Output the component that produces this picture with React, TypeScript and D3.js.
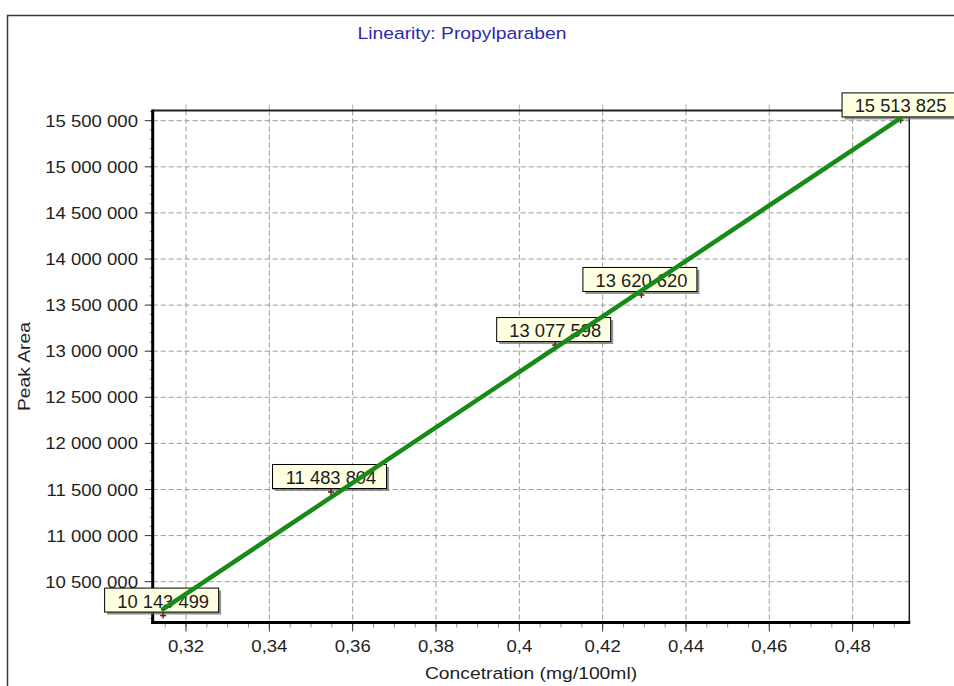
import React from 'react';
import * as d3 from 'd3';

// Calibration points: concentration (mg/100ml) and measured peak area
const concentrations = [0.3145, 0.3548, 0.4086, 0.4293, 0.4915];
const peakAreas = [10143499, 11483804, 13077598, 13620620, 15513825];

// Axis ticks and extents
const xTickValues = [0.32, 0.34, 0.36, 0.38, 0.4, 0.42, 0.44, 0.46, 0.48];
const yTickValues = [10500000, 11000000, 11500000, 12000000, 12500000, 13000000, 13500000, 14000000, 14500000, 15000000, 15500000];
const xDomain = [0.312, 0.4936];
const yDomain = [10057500, 15610600];
const xMinorStep = 0.005;
const yMinorStep = 100000;

const chartTitle = 'Linearity: Propylparaben';
const xAxisTitle = 'Concetration (mg/100ml)';
const yAxisTitle = 'Peak Area';

const W = 954;
const H = 686;
const plot = { left: 152.7, right: 909.3, top: 110.5, bottom: 622.5 };
const FONT = '"Liberation Sans", Arial, Helvetica, sans-serif';

const locale = d3.formatLocale({ decimal: ',', thousands: ' ', grouping: [3], currency: ['', ''] });
const fmtInt = locale.format(',d');
const fmtConc = (v: number) => String(+v.toFixed(3)).replace('.', ',');

type STextProps = {
  x: number;
  y: number;
  size: number;
  sx?: number;
  rotate?: number;
  anchor?: 'start' | 'middle' | 'end';
  fill?: string;
  children: React.ReactNode;
};

// Text with a slight horizontal stretch, like the original UI rendering
function SText({ x, y, size, sx = 1, rotate = 0, anchor = 'start', fill = '#1e1e1e', children }: STextProps) {
  return (
    <text
      transform={`translate(${x},${y}) rotate(${rotate}) scale(${sx},1)`}
      textAnchor={anchor}
      fontFamily={FONT}
      fontSize={size}
      fill={fill}
    >
      {children}
    </text>
  );
}

export default function App() {
  const x = d3.scaleLinear().domain(xDomain).range([plot.left, plot.right]);
  const y = d3.scaleLinear().domain(yDomain).range([plot.bottom, plot.top]);

  const points = concentrations.map((c, i) => ({ c, a: peakAreas[i] }));

  // Least-squares fit through the calibration points
  const mx = d3.mean(concentrations) as number;
  const my = d3.mean(peakAreas) as number;
  const sxy = d3.sum(points, (p) => (p.c - mx) * (p.a - my));
  const sxx = d3.sum(points, (p) => (p.c - mx) ** 2);
  const slope = sxy / sxx;
  const intercept = my - slope * mx;
  const [cMin, cMax] = d3.extent(concentrations) as [number, number];
  const fitLine = d3.line<number>()
    .x((c) => x(c))
    .y((c) => y(intercept + slope * c))([cMin, cMax]) as string;

  const xMinor = d3.range(Math.ceil(xDomain[0] / xMinorStep), Math.floor(xDomain[1] / xMinorStep) + 1)
    .map((k) => k * xMinorStep);
  const yMinor = d3.range(Math.ceil(yDomain[0] / yMinorStep), Math.floor(yDomain[1] / yMinorStep) + 1)
    .map((k) => k * yMinorStep);

  const gridColor = '#9a9a9a';
  const boxW = 114;
  const boxH = 24;

  return (
    <svg
      width={W}
      height={H}
      viewBox={`0 0 ${W} ${H}`}
      style={{ position: 'absolute', left: 0, top: 0, background: '#fff' }}
    >
      {/* outer panel frame */}
      <rect x={7.5} y={15.5} width={980} height={720} fill="#fff" stroke="#3a3a3a" strokeWidth={1.5} />

      <SText x={462} y={39} size={16.5} sx={1.17} anchor="middle" fill="#2b2ba8">{chartTitle}</SText>

      {/* grid */}
      <g stroke={gridColor} strokeWidth={1} strokeDasharray="5,3">
        {yTickValues.map((v) => (
          <line key={`gy${v}`} x1={plot.left} x2={plot.right} y1={y(v)} y2={y(v)} />
        ))}
        {xTickValues.map((v) => (
          <line key={`gx${v}`} x1={x(v)} x2={x(v)} y1={plot.top} y2={plot.bottom} />
        ))}
      </g>

      {/* minor ticks */}
      <g stroke="#8a8a8a" strokeWidth={1}>
        {xMinor.map((v) => (
          <line key={`mx${v}`} x1={x(v)} x2={x(v)} y1={plot.bottom} y2={plot.bottom + 5} />
        ))}
        {yMinor.map((v) => (
          <line key={`my${v}`} x1={plot.left - 3} x2={plot.left} y1={y(v)} y2={y(v)} />
        ))}
      </g>

      {/* major ticks */}
      <g stroke="#333" strokeWidth={1}>
        {xTickValues.map((v) => (
          <line key={`tx${v}`} x1={x(v)} x2={x(v)} y1={plot.bottom} y2={plot.bottom + 9} />
        ))}
        {yTickValues.map((v) => (
          <line key={`ty${v}`} x1={plot.left - 8} x2={plot.left} y1={y(v)} y2={y(v)} />
        ))}
      </g>
      <g stroke="#b0b0b0" strokeWidth={1}>
        {xTickValues.map((v) => (
          <line key={`tt${v}`} x1={x(v)} x2={x(v)} y1={plot.top - 6} y2={plot.top} />
        ))}
      </g>

      {/* plot frame */}
      <line x1={plot.left} x2={plot.right + 1} y1={plot.top} y2={plot.top} stroke="#222" strokeWidth={2} />
      <line x1={plot.right} x2={plot.right} y1={plot.top} y2={plot.bottom} stroke="#222" strokeWidth={1.5} />
      <line x1={plot.left - 1.5} x2={plot.right + 1} y1={plot.bottom} y2={plot.bottom} stroke="#000" strokeWidth={3} />
      <line x1={plot.left} x2={plot.left} y1={plot.top - 1} y2={plot.bottom + 1.5} stroke="#000" strokeWidth={3} />

      {/* tick labels */}
      {yTickValues.map((v) => (
        <SText key={`ly${v}`} x={138} y={y(v) + 6} size={16} sx={1.16} anchor="end">{fmtInt(v)}</SText>
      ))}
      {xTickValues.map((v) => (
        <SText key={`lx${v}`} x={x(v)} y={652} size={16} sx={1.16} anchor="middle">{fmtConc(v)}</SText>
      ))}

      <SText x={531} y={679} size={16.5} sx={1.17} anchor="middle">{xAxisTitle}</SText>
      <SText x={30} y={(plot.top + plot.bottom) / 2} size={16.5} sx={1.17} rotate={-90} anchor="middle">{yAxisTitle}</SText>

      {/* value labels */}
      {points.map((p, i) => {
        const px = x(p.c);
        const py = y(p.a);
        const bx = px - 59;
        const by = py - 3 - boxH;
        return (
          <g key={`lab${i}`}>
            <rect x={bx + 3} y={by + 3} width={boxW} height={boxH} fill="#6e6e6e" opacity={0.75} />
            <rect x={bx + 0.5} y={by + 0.5} width={boxW} height={boxH} fill="#ffffe1" stroke="#000" strokeWidth={1} />
            <SText x={bx + boxW / 2 + 2} y={by + boxH - 4} size={18} sx={1.02} anchor="middle" fill="#1c1c1c">
              {fmtInt(p.a)}
            </SText>
          </g>
        );
      })}

      {/* point markers */}
      <g stroke="#6e1a14" strokeWidth={1.5}>
        {points.map((p, i) => (
          <g key={`m${i}`}>
            <line x1={x(p.c) - 3} x2={x(p.c) + 3} y1={y(p.a) + 1} y2={y(p.a) + 1} />
            <line x1={x(p.c)} x2={x(p.c)} y1={y(p.a) - 2} y2={y(p.a) + 4} />
          </g>
        ))}
      </g>

      {/* regression line */}
      <path d={fitLine} fill="none" stroke="#178a17" strokeWidth={4.5} strokeLinecap="round" />
    </svg>
  );
}
